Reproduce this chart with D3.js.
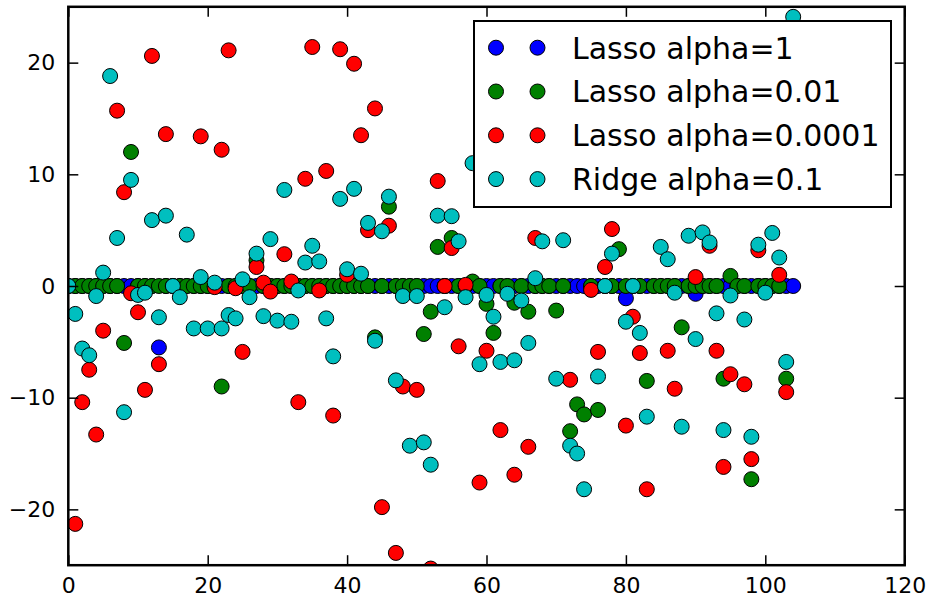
<!DOCTYPE html>
<html>
<head>
<meta charset="utf-8">
<script src="https://cdn.jsdelivr.net/npm/d3@7"></script>
<style>
	body { margin: 0; background: #fff; }
	svg text { font-family: "DejaVu Sans", sans-serif; }
</style>
</head>
<body>
<div id="chart"></div>
<script>
// Variables
var width = 932,
	height = 600,
	plotLeft = 68.3,
	plotRight = 904.7,
	plotTop = 6.8,
	plotBottom = 565.2,
	markerRadius = 7.5;

// coefficient index 0..104, null = point not visible in the picture
var lassoAlpha1 = [
	0, 0, 0, 0, 0, 0, 0, 0, 0, 0,
	0, 0, 0, -5.5, 0, 0, 0, 0, 0, 0,
	0, 0, 0, 0, 0, 0, 0, 0, 0, 0,
	0, 0, 0, 0, 0, 0, 0, 0, 0, 0,
	0, 0, 0, 0, 0, 0, 0, 0, 0, 0,
	0, 0, 0, 0, 0, 0, 0, 0, 0, 0,
	0, 0, 0, 0, 0, 0, 0, 0, 0, 0,
	0, 0, 0, 0, 0, 0, 0, 0, 0, 0,
	-1.1, 0, 0, 0, 0, 0, 0, 0, 0, 0,
	-0.7, 0, 0, 0, 0, 0, 0, 0, 0, 0,
	0, 0, 0, 0, 0
];

var lassoAlpha001 = [
	0, 0, 0, 0, 0, 0, 0, 0, -5.1, 12.0,
	0, 0, 0, 0, 0, 0, 0, 0, 0, 0,
	0, 0, -9.0, 0, 0, 0, 0, 2.3, 0, 0,
	0, 0, 0, 0, 0, 0, 0, 0, 0, 0,
	0, 0, 0, 0, -4.6, 0, 7.1, 0, 0, 0,
	0, -4.3, -2.3, 3.5, 0, 4.3, 0, 0, 0.4, 0,
	-1.6, -4.2, 0, 0, -1.5, 0, -2.3, 0, 0, 0,
	-2.2, 0, -13.0, -10.6, -11.5, 0, -11.1, 0, 0, 3.3,
	0, 0, 0, -8.5, 0, 0, 0, 0, -3.7, 0,
	0, 0, 0, 0, -8.3, 0.9, 0, 0, -17.3, 0,
	0, 0, 0, -8.3, null
];

var lassoAlpha00001 = [
	null, -21.3, -10.4, -7.5, -13.3, -4.0, null, 15.7, 8.4, -0.65,
	-2.35, -9.3, 20.6, -7.0, 13.6, null, null, null, null, 13.4,
	null, -0.1, 12.2, 21.1, -0.2, -5.9, null, 1.7, 0.3, -0.5,
	null, 2.85, 0.4, -10.4, 9.6, 21.4, -0.4, 10.3, -11.6, 21.2,
	1.0, 19.9, 13.5, 5.0, 15.9, -19.8, 5.4, -23.9, -9.0, null,
	-9.3, null, -25.3, 9.4, 0, 3.4, -5.4, 0.1, null, -17.6,
	-5.8, null, -12.9, null, -16.9, null, -14.4, 4.3, null, null,
	null, null, -8.4, null, null, -0.35, -5.9, 1.7, 5.1, null,
	-12.5, -2.75, -6.0, -18.2, null, null, -5.8, -9.2, null, null,
	0.8, null, 3.6, -5.8, -16.2, -7.9, null, -8.8, -15.5, 3.2,
	null, null, 1.0, -9.5, null
];

var ridgeAlpha01 = [
	0, -2.5, -5.6, -6.2, -0.9, 1.2, 18.8, 4.3, -11.3, 9.5,
	-0.8, -0.6, 5.9, -2.8, 6.3, 0, -1.0, 4.6, -3.8, 0.8,
	-3.8, 0.3, -3.8, -2.6, -2.9, 0.6, -1.0, 2.9, -2.7, 4.2,
	-3.1, 8.6, -3.2, -0.4, 2.1, 3.6, 2.2, -2.9, -6.3, 7.8,
	1.5, 8.7, 1.1, 5.65, -4.9, 4.9, 8.0, -8.45, -0.9, -14.3,
	-0.9, -14.0, -16.0, 6.3, -1.9, 6.25, 4.0, -1.0, 11.0, -7.0,
	-0.8, -2.75, -6.8, -0.7, -6.65, -1.3, -5.1, 0.7, 4.0, null,
	-8.3, 4.1, -14.3, -15.0, -18.2, null, -8.1, 0, 2.9, null,
	-3.2, 0, -4.2, -11.7, null, 3.5, 2.4, -0.6, -12.6, 4.5,
	-4.75, 4.8, 3.9, -2.45, -12.9, -0.85, null, -3.0, -13.5, 3.7,
	-0.6, 4.75, 2.55, -6.8, 24.1
];

var seriesNames = ["Lasso alpha=1", "Lasso alpha=0.01", "Lasso alpha=0.0001", "Ridge alpha=0.1"],
	seriesColors = ["#0000ff", "#008000", "#ff0000", "#00bfbf"],
	seriesData = [lassoAlpha1, lassoAlpha001, lassoAlpha00001, ridgeAlpha01];

var xTicks = [0, 20, 40, 60, 80, 100, 120],
	yTicks = [-20, -10, 0, 10, 20];

var x = d3.scaleLinear()
	.domain([0, 120])
	.range([plotLeft, plotRight]);

var y = d3.scaleLinear()
	.domain([-25, 25])
	.range([plotBottom, plotTop]);

var svg = d3.select("#chart").append("svg")
	.attr("width", width)
	.attr("height", height);

svg.append("clipPath")
	.attr("id", "plotClip")
  .append("rect")
	.attr("x", plotLeft)
	.attr("y", plotTop)
	.attr("width", plotRight - plotLeft)
	.attr("height", plotBottom - plotTop);

function drawPoints() {
	var g = svg.append("g").attr("clip-path", "url(#plotClip)");
	seriesData.forEach(function(values, s) {
		g.append("g")
			.attr("class", "series")
		  .selectAll("circle")
			.data(values.map(function(v, i) { return {i: i, v: v}; })
				.filter(function(d) { return d.v !== null; }))
		  .enter().append("circle")
			.attr("cx", function(d) { return x(d.i); })
			.attr("cy", function(d) { return y(d.v); })
			.attr("r", markerRadius)
			.style("fill", seriesColors[s])
			.style("stroke", "#000")
			.style("stroke-width", 1);
	});
}

function styleAxis(g, hideLabels) {
	g.select(".domain").remove();
	g.selectAll(".tick line").attr("stroke", "#000").attr("stroke-width", 1.5);
	g.selectAll(".tick text")
		.attr("fill", "#000")
		.style("font-size", "22px");
	if (hideLabels) g.selectAll(".tick text").remove();
}

function drawAxes() {
	var fmt = function(d) { return d < 0 ? "\u2212" + Math.abs(d) : d; };

	svg.append("g")
		.attr("transform", "translate(0," + plotBottom + ")")
		.call(d3.axisBottom(x).tickValues(xTicks).tickFormat(fmt)
			.tickSizeInner(-10).tickSizeOuter(0).tickPadding(12))
		.call(styleAxis, false);

	svg.append("g")
		.attr("transform", "translate(0," + plotTop + ")")
		.call(d3.axisTop(x).tickValues(xTicks).tickSizeInner(-10).tickSizeOuter(0))
		.call(styleAxis, true);

	svg.append("g")
		.attr("transform", "translate(" + plotLeft + ",0)")
		.call(d3.axisLeft(y).tickValues(yTicks).tickFormat(fmt)
			.tickSizeInner(-10).tickSizeOuter(0).tickPadding(13))
		.call(styleAxis, false);

	svg.append("g")
		.attr("transform", "translate(" + plotRight + ",0)")
		.call(d3.axisRight(y).tickValues(yTicks).tickSizeInner(-10).tickSizeOuter(0))
		.call(styleAxis, true);

	// frame
	svg.append("rect")
		.attr("x", plotLeft)
		.attr("y", plotTop)
		.attr("width", plotRight - plotLeft)
		.attr("height", plotBottom - plotTop)
		.attr("fill", "none")
		.attr("stroke", "#000")
		.attr("stroke-width", 2.5);
}

function drawLegend() {
	var lg = svg.append("g").attr("class", "legend");
	lg.append("rect")
		.attr("x", 474)
		.attr("y", 21)
		.attr("width", 417)
		.attr("height", 186)
		.attr("fill", "#fff")
		.attr("stroke", "#000")
		.attr("stroke-width", 2);

	var rows = lg.selectAll("g.row")
		.data(seriesNames)
	  .enter().append("g")
		.attr("class", "row")
		.attr("transform", function(d, i) { return "translate(0," + (47.7 + i * 43.8) + ")"; });

	[496, 537.5].forEach(function(mx) {
		rows.append("circle")
			.attr("cx", mx)
			.attr("cy", 0)
			.attr("r", markerRadius)
			.style("fill", function(d, i) { return seriesColors[i]; })
			.style("stroke", "#000")
			.style("stroke-width", 1);
	});

	rows.append("text")
		.attr("x", 572)
		.attr("y", 0)
		.attr("dy", "0.36em")
		.style("font-size", "30px")
		.text(function(d) { return d; });
}

drawPoints();
drawAxes();
drawLegend();
</script>
</body>
</html>
